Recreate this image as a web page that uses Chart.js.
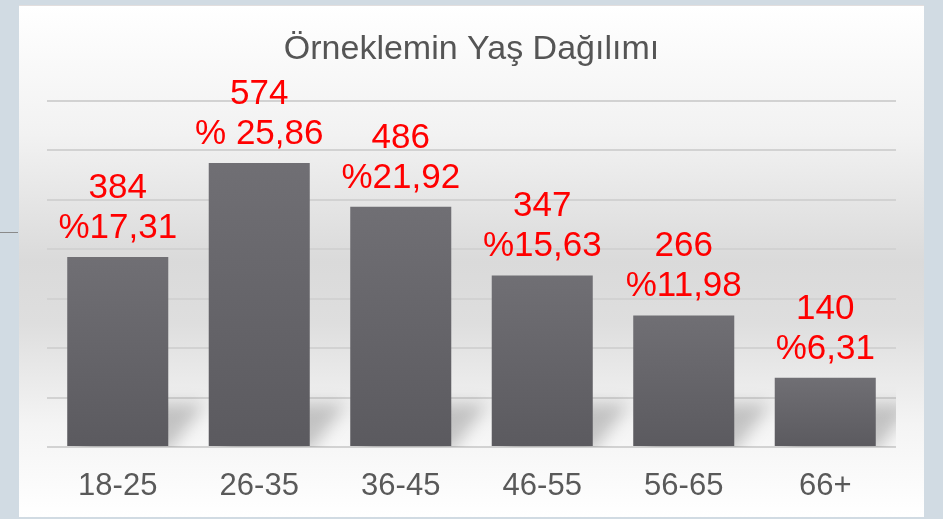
<!DOCTYPE html>
<html>
<head>
<meta charset="utf-8">
<script src="https://cdn.jsdelivr.net/npm/chart.js@4"></script>
<style>
  body { margin: 0; background: #d1dbe3; width: 943px; height: 519px; position: relative; overflow: hidden; }
  #sideLine { position: absolute; left: 0; top: 232px; width: 18px; height: 1px; background: #8a8a8a; }
  #frame {
    position: absolute; left: 19px; top: 5px; width: 905px; height: 512px;
    background: linear-gradient(to bottom, #ffffff 0%, #f2f2f2 25%, #dadada 50%, #dedede 62%, #f4f4f4 82%, #ffffff 100%);
    border-top: 1px solid #e2dede;
    box-sizing: border-box;
  }
</style>
</head>
<body>
<div id="sideLine"></div>
<div id="frame"><canvas id="ageChart" width="905" height="511"></canvas></div>
<script>
// data
const categories = ['18-25', '26-35', '36-45', '46-55', '56-65', '66+'];
const counts = [384, 574, 486, 347, 266, 140];
const percentLabels = ['%17,31', '% 25,86', '%21,92', '%15,63', '%11,98', '%6,31'];
const yTicks = [0, 100, 200, 300, 400, 500, 600, 700];

const FONT = 'Liberation Sans, Arial, sans-serif';

// soft shadow behind each bar
const barShadow = {
    id: 'barShadow',
    beforeDatasetsDraw(chart) {
        const ctx = chart.ctx;
        const area = chart.chartArea;
        ctx.save();
        ctx.beginPath();
        ctx.rect(area.left, area.top, area.right - area.left, area.bottom - area.top);
        ctx.clip();
        ctx.filter = 'blur(8px)';
        ctx.fillStyle = 'rgba(0,0,0,0.2)';
        chart.getDatasetMeta(0).data.forEach(bar => {
            const x0 = bar.x - bar.width / 2, x1 = bar.x + bar.width / 2;
            const h = Math.min(42, bar.base - bar.y);
            ctx.beginPath();
            ctx.moveTo(x0 + 10, bar.base + 6);
            ctx.lineTo(x1, bar.base + 6);
            ctx.lineTo(x1 + 36, bar.base - h);
            ctx.lineTo(x0 + 36, bar.base - h);
            ctx.closePath();
            ctx.fill();
        });
        ctx.restore();
    }
};

// two-line red labels above bars
const barLabels = {
    id: 'barLabels',
    afterDatasetsDraw(chart) {
        const ctx = chart.ctx;
        ctx.save();
        ctx.font = '35px ' + FONT;
        ctx.fillStyle = '#ff0000';
        ctx.textAlign = 'center';
        ctx.textBaseline = 'alphabetic';
        chart.getDatasetMeta(0).data.forEach((bar, i) => {
            ctx.fillText(String(counts[i]), bar.x, bar.y - 59);
            ctx.fillText(percentLabels[i], bar.x, bar.y - 19);
        });
        ctx.restore();
    }
};

function barFill(context) {
    const chart = context.chart;
    if (!chart.chartArea || !chart.scales.y) return '#646368';
    const yScale = chart.scales.y;
    const top = yScale.getPixelForValue(context.raw);
    const bottom = yScale.getPixelForValue(0);
    const g = chart.ctx.createLinearGradient(0, top, 0, bottom);
    g.addColorStop(0, '#706f74');
    g.addColorStop(1, '#5b5a5f');
    return g;
}

new Chart(document.getElementById('ageChart'), {
    type: 'bar',
    data: {
        labels: categories,
        datasets: [{
            data: counts,
            backgroundColor: barFill,
            borderWidth: 0,
            categoryPercentage: 1,
            barPercentage: 0.714
        }]
    },
    options: {
        responsive: false,
        animation: false,
        layout: { padding: { left: 28, right: 28, top: 0, bottom: 14 } },
        plugins: {
            legend: { display: false },
            tooltip: { enabled: false },
            title: {
                display: true,
                text: 'Örneklemin Yaş Dağılımı',
                color: '#555555',
                font: { family: FONT, size: 34, weight: 'normal', lineHeight: 1.2 },
                padding: { top: 23, bottom: 31 }
            }
        },
        scales: {
            x: {
                grid: { display: false },
                border: { display: false },
                afterFit(scale) { scale.height = 56; },
                ticks: {
                    color: '#595959',
                    font: { family: FONT, size: 31, lineHeight: 1.2 },
                    padding: 13,
                    maxRotation: 0
                }
            },
            y: {
                min: yTicks[0],
                max: yTicks[yTicks.length - 1],
                border: { display: false },
                grid: { color: '#d2d2d2', lineWidth: 2, drawTicks: false },
                ticks: { display: false, stepSize: yTicks[1] - yTicks[0] }
            }
        }
    },
    plugins: [barShadow, barLabels]
});
</script>
</body>
</html>
